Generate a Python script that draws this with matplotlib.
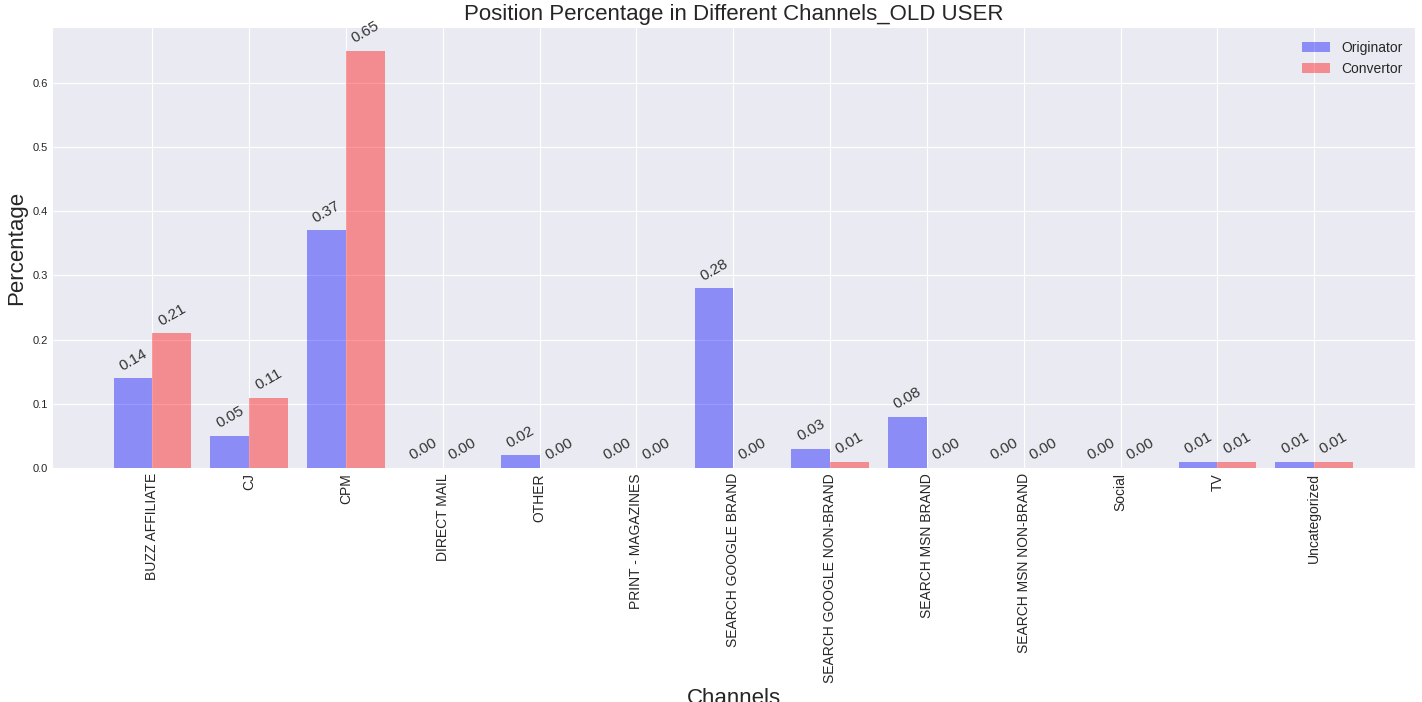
import matplotlib
matplotlib.use("Agg")
import matplotlib.pyplot as plt
import numpy as np

plt.style.use("seaborn-v0_8-darkgrid")

channels = ["BUZZ AFFILIATE", "CJ", "CPM", "DIRECT MAIL", "OTHER", "PRINT - MAGAZINES",
            "SEARCH GOOGLE BRAND", "SEARCH GOOGLE NON-BRAND", "SEARCH MSN BRAND",
            "SEARCH MSN NON-BRAND", "Social", "TV", "Uncategorized"]
originator = [0.14, 0.05, 0.37, 0.00, 0.02, 0.00, 0.28, 0.03, 0.08, 0.00, 0.00, 0.01, 0.01]
convertor = [0.21, 0.11, 0.65, 0.00, 0.00, 0.00, 0.00, 0.01, 0.00, 0.00, 0.00, 0.01, 0.01]

fig, ax = plt.subplots(figsize=(14.22, 7.02), dpi=100)
fig.subplots_adjust(left=0.037, right=0.995, top=0.96, bottom=0.333)

x = np.arange(len(channels))
w = 0.4
b1 = ax.bar(x - w / 2, originator, w, color="blue", alpha=0.4, label="Originator")
b2 = ax.bar(x + w / 2, convertor, w, color="red", alpha=0.4, label="Convertor")

for bars in (b1, b2):
    for r in bars:
        h = r.get_height()
        ax.text(r.get_x() + r.get_width() / 2, h + 0.008, f"{h:.2f}",
                ha="center", va="bottom", rotation=30, fontsize=11, color="#333333")

ax.set_xticks(x)
ax.set_xticklabels(channels, rotation=90, fontsize=10)
ax.tick_params(axis="y", labelsize=8)
ax.set_xlim(-1.03, 13.04)
ax.set_ylim(0, 0.685)
ax.set_title("Position Percentage in Different Channels_OLD USER", fontsize=16)
ax.set_xlabel("Channels", fontsize=16)
ax.set_ylabel("Percentage", fontsize=16)
ax.legend(fontsize=10, loc="upper right")

fig.savefig("out.png", dpi=100)
